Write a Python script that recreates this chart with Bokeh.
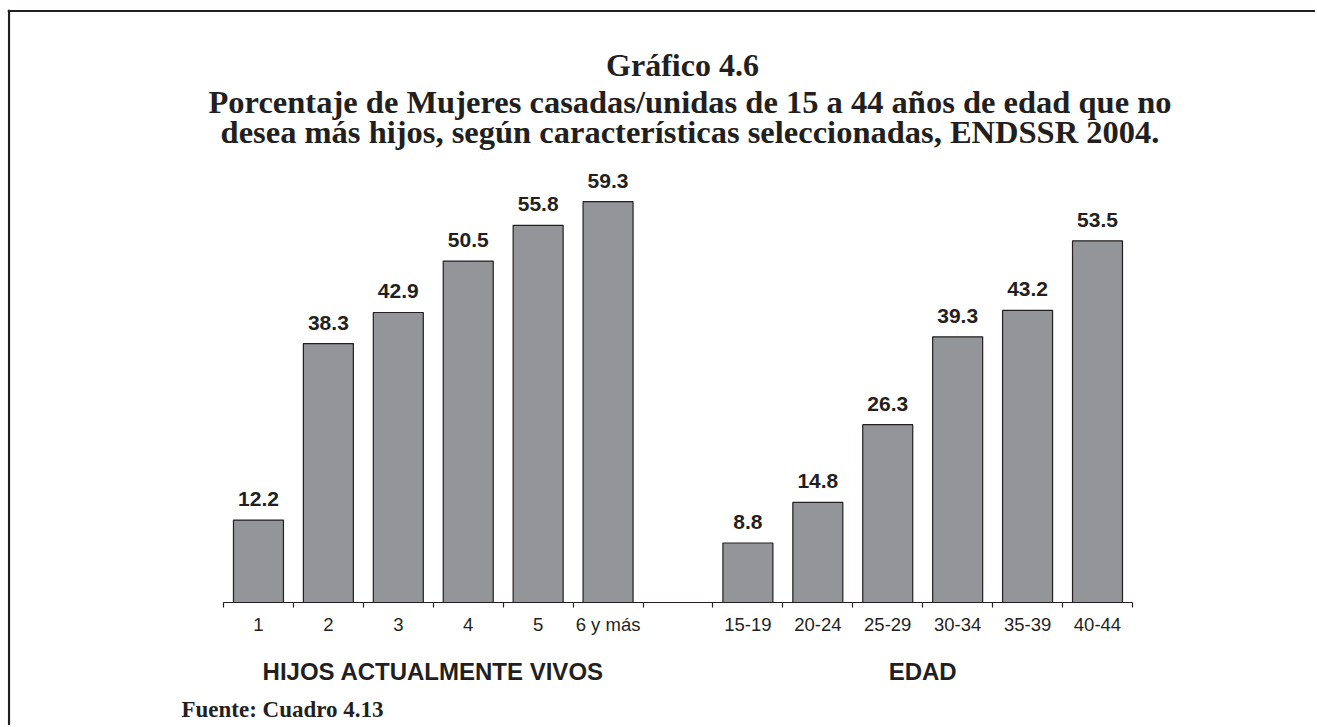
from bokeh.plotting import figure
from bokeh.models import Range1d, FixedTicker, Label, Span
from bokeh.embed import file_html
from bokeh.resources import INLINE
from bokeh.core.properties import value

# ---- data ----
hijos_cats = ["1", "2", "3", "4", "5", "6 y más"]
hijos_vals = [12.2, 38.3, 42.9, 50.5, 55.8, 59.3]
edad_cats = ["15-19", "20-24", "25-29", "30-34", "35-39", "40-44"]
edad_vals = [8.8, 14.8, 26.3, 39.3, 43.2, 53.5]
group_names = ["HIJOS ACTUALMENTE VIVOS", "EDAD"]

title_lines = [
    "Gráfico 4.6",
    "Porcentaje de Mujeres casadas/unidas de 15 a 44 años de edad que no",
    "desea más hijos, según características seleccionadas, ENDSSR 2004.",
]
source_text = "Fuente: Cuadro 4.13"

# ---- layout constants (canvas pixels) ----
W, H = 1308, 716
X0 = 216.0          # canvas px of first slot boundary
SLOT = 69.92        # px per category slot
BASE = 593.0        # canvas px of baseline (y = 0)
YS = 6.76           # px per percentage point
TXT_SHIFT = 9       # empirical baseline correction for text
INK = "#231f20"
BAR = "#939598"

def ydata(px, shift=TXT_SHIFT):
    return (BASE - (px - shift)) / YS

def xdata(px):
    return (px - X0) / SLOT

# positions: group 1 slots 0..5, empty slot 6, group 2 slots 7..12
cats = hijos_cats + edad_cats
vals = hijos_vals + edad_vals
xs = [i + 0.5 for i in range(len(hijos_cats))] + \
     [len(hijos_cats) + 1 + i + 0.5 for i in range(len(edad_cats))]
n_slots = len(hijos_cats) + 1 + len(edad_cats)

p = figure(width=W, height=H, output_backend="svg", toolbar_location=None,
           x_range=Range1d(xdata(0), xdata(W)),
           y_range=Range1d(-(H - BASE) / YS, BASE / YS),
           y_axis_location=None, min_border_left=0, min_border_right=0,
           min_border_top=0, min_border_bottom=0)
p.margin = (9, 0, 0, 7)
p.outline_line_color = None
p.xgrid.visible = False
p.ygrid.visible = False
p.background_fill_color = "white"
p.border_fill_color = "white"

# frame lines of the original page (left and top)
p.add_layout(Span(location=ydata(1.5, 0), dimension="width", line_color=INK, line_width=2.2))
p.add_layout(Span(location=xdata(1.5), dimension="height", line_color=INK, line_width=2.2))

p.vbar(x=xs, top=vals, width=0.715, fill_color=BAR, line_color=INK, line_width=1.2)
p.text(x=xs, y=vals, text=[f"{v:.1f}" for v in vals], text_align="center",
       text_baseline="alphabetic", y_offset=-21, text_color=INK,
       text_font=value("Liberation Sans"), text_font_style="bold",
       text_font_size="21px")

ax = p.xaxis[0]
ax.fixed_location = 0
ax.ticker = FixedTicker(ticks=xs, minor_ticks=list(range(n_slots + 1)))
ax.major_label_overrides = {x: c for x, c in zip(xs, cats)}
ax.bounds = (0, n_slots)
ax.axis_line_color = INK
ax.axis_line_width = 1.2
ax.major_tick_out = 0
ax.major_tick_in = 0
ax.minor_tick_out = 5
ax.minor_tick_in = 0
ax.minor_tick_line_color = INK
ax.minor_tick_line_width = 1.2
ax.major_label_standoff = 6
ax.major_label_text_font = "Liberation Sans"
ax.major_label_text_font_size = "18.5px"
ax.major_label_text_color = INK

# titles
title_x = [675, 682.5, 682.5]
title_px = [64, 101, 131]
title_sizes = ["32px", "32.5px", "32.5px"]
for t, tx, py, fs in zip(title_lines, title_x, title_px, title_sizes):
    p.add_layout(Label(x=xdata(tx), y=ydata(py), text=t, text_align="center",
                       text_baseline="alphabetic", text_font="Liberation Serif",
                       text_font_style="bold", text_font_size=fs, text_color=INK))

# group labels
g_centers = [len(hijos_cats) / 2, len(hijos_cats) + 1 + len(edad_cats) / 2]
for g, gx in zip(group_names, g_centers):
    p.add_layout(Label(x=gx, y=ydata(671), text=g, text_align="center",
                       text_baseline="alphabetic", text_font="Liberation Sans",
                       text_font_style="bold", text_font_size="24px", text_color=INK))

p.add_layout(Label(x=xdata(174), y=ydata(709), text=source_text, text_align="left",
                   text_baseline="alphabetic", text_font="Liberation Serif",
                   text_font_style="bold", text_font_size="23px", text_color=INK))

open("out.html", "w").write(file_html(p, INLINE))
